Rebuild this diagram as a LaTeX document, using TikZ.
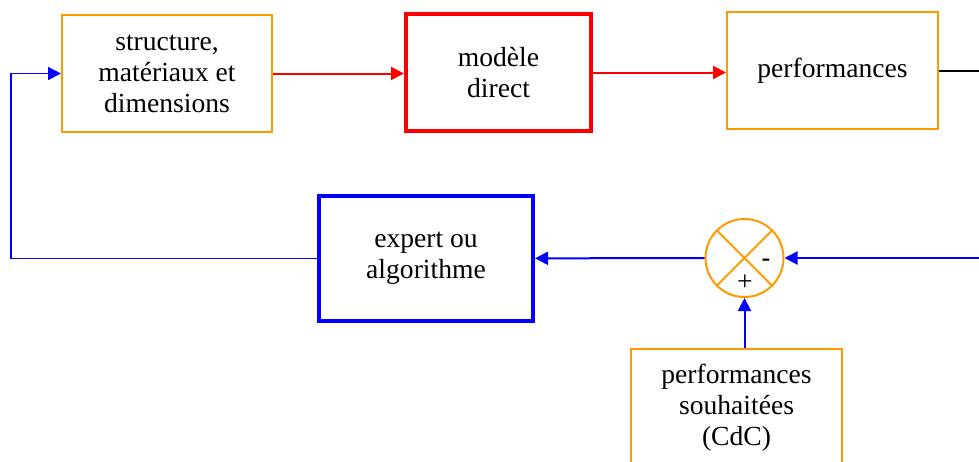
\documentclass[tikz,border=0pt]{standalone}
\usepackage{fontspec}
\setmainfont{Liberation Serif}
\usetikzlibrary{arrows.meta, positioning}
\definecolor{orangeppt}{RGB}{255,153,0}

\begin{document}
\begin{tikzpicture}[x=0.5pt, y=-0.5pt, >={Triangle[length=6.5pt,width=6.5pt]},
  every node/.style={font=\fontsize{13.8}{15.5}\selectfont, align=center, inner sep=0pt},
  bloc/.style={draw=orangeppt, line width=1pt, minimum width=105pt, minimum height=58.5pt},
  fleche/.style={->, blue, line width=1pt}]

\clip (0,0) rectangle (979,461);

% Nodes
\node (struct) [bloc] at (167,73.5) {structure,\\matériaux et\\dimensions};
\node (direct) [bloc, draw=red, line width=2pt, minimum width=92.5pt] at (498.5,72.5) {modèle\\direct};
\node (perf) [bloc, minimum width=105.5pt] at (832.5,70.5) {performances};
\node (expert) [bloc, draw=blue, line width=2pt, minimum width=107pt, minimum height=62.5pt] at (426,258.5) {expert ou\\algorithme};
\node (sum) [circle, draw=orangeppt, line width=1pt, minimum size=39pt] at (744.5,258) {};
\draw[orangeppt, line width=1pt] (sum.45) -- (sum.225) (sum.135) -- (sum.315);
\node (moins) at (766,263) {\fontspec{Liberation Sans}-};
\node (plus) at (745,283) {+};
\node (souh) [bloc, minimum width=105.5pt] at (736.5,407.5) {performances\\souhaitées\\(CdC)};

\coordinate (sortie) at (979,70.5);
\coordinate (entree) at (979,258);
\coordinate (retour) at (11,258.5);

% Arrows
\draw[->, red, line width=1pt] (struct) -- (struct -| direct.west);
\draw[->, red, line width=1pt] (direct) -- (direct -| perf.west);
\draw[line width=1pt] (perf) -- (sortie);
\draw[fleche] (entree) -- (sum);
\draw[fleche] (sum) -- (expert);
\draw[fleche] (souh.north -| sum) -- (sum);
\draw[fleche, line width=0.8pt] (expert) -- (retour) |- (struct);

\end{tikzpicture}
\end{document}
